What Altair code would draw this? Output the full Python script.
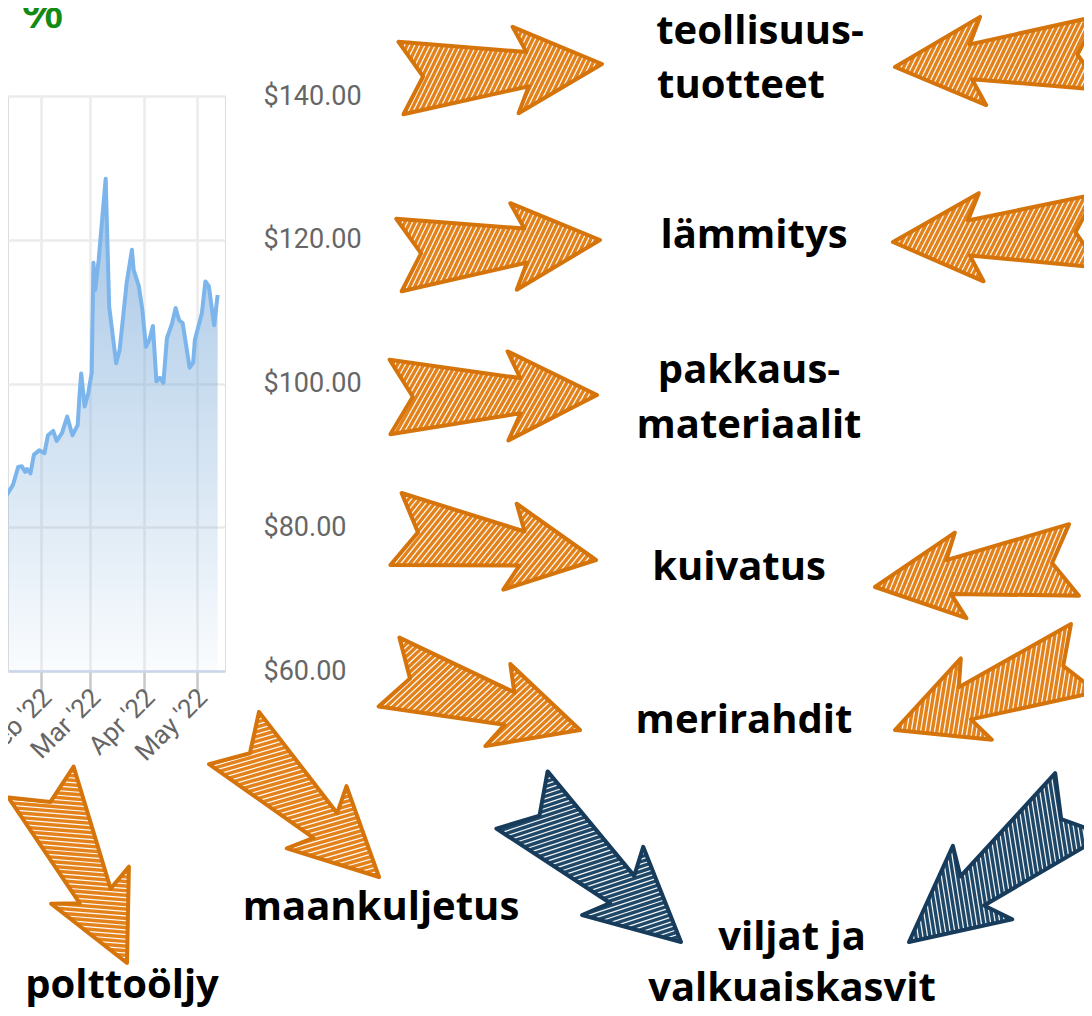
import math
import altair as alt
import pandas as pd

# ---------------- data ----------------
dates = ["2022-01-03", "2022-01-06", "2022-01-09", "2022-01-11", "2022-01-12", "2022-01-16",
         "2022-01-19", "2022-01-21", "2022-01-23", "2022-01-24", "2022-01-26", "2022-01-28",
         "2022-01-31", "2022-02-03", "2022-02-05", "2022-02-08", "2022-02-10", "2022-02-13",
         "2022-02-16", "2022-02-19", "2022-02-22", "2022-02-23", "2022-02-24", "2022-02-26",
         "2022-02-28", "2022-03-02", "2022-03-03", "2022-03-04", "2022-03-06", "2022-03-10",
         "2022-03-12", "2022-03-16", "2022-03-18", "2022-03-22", "2022-03-25", "2022-03-26",
         "2022-03-29", "2022-03-31", "2022-04-02", "2022-04-04", "2022-04-06", "2022-04-08",
         "2022-04-10", "2022-04-12", "2022-04-14", "2022-04-17", "2022-04-19", "2022-04-21",
         "2022-04-23", "2022-04-27", "2022-04-29", "2022-04-30", "2022-05-04", "2022-05-06",
         "2022-05-08", "2022-05-11", "2022-05-13"]
prices = [79.5, 80.8, 82.2, 81.8, 84.3, 85.9,
          88.4, 88.5, 87.7, 88.1, 87.5, 90.1,
          90.7, 90.3, 92.8, 93.4, 92.0, 93.1,
          95.4, 92.8, 94.2, 98.2, 101.4, 96.8,
          98.6, 101.5, 116.8, 113.0, 117.2, 128.5,
          110.7, 102.8, 104.7, 114.0, 118.6, 115.8,
          113.5, 110.2, 105.1, 106.1, 108.0, 100.3,
          100.8, 100.1, 106.3, 108.4, 110.5, 108.8,
          108.4, 102.2, 102.9, 106.1, 109.8, 114.2,
          113.5, 108.1, 112.3]
assert len(dates) == len(prices)

tick_months = [2, 3, 4, 5]
y_ticks = [60, 80, 100, 120, 140]

labels = ["teollisuus-", "tuotteet", "lämmitys", "pakkaus-", "materiaalit", "kuivatus",
          "merirahdit", "maankuljetus", "polttoöljy", "viljat ja", "valkuaiskasvit"]
corner_text = "%"

# ---------------- layout (page pixels) ----------------
OX, OY = 8, 96          # page position of the plot origin
label_pos = [(760, 44), (741, 98), (754, 248), (749, 383), (749, 438), (739, 580),
             (744, 733), (381, 920), (122, 998), (792, 950), (792, 1001)]

COLORS = {"orange": ("#E3821A", "#D6740C"), "navy": ("#1F4768", "#173B5B")}
# tail centre x, y, tip x, y, colour
arrows = [
    (401, 78, 602, 64, "orange"),
    (399, 255, 600, 240, "orange"),
    (390, 397, 597, 395, "orange"),
    (396, 529, 596, 560, "orange"),
    (389, 672, 580, 730, "orange"),
    (1100, 53, 895, 67, "orange"),
    (1098, 231, 893, 242, "orange"),
    (1074, 560, 875, 587, "orange"),
    (1084, 658, 895, 730, "orange"),
    (522, 800, 681, 942, "navy"),
    (1080, 804, 909, 942, "navy"),
    (41, 782, 127, 963, "orange"),
    (234, 738, 379, 877, "orange"),
]
ARROW_SHAPE = [(0.0, -0.18), (0.63, -0.085), (0.57, -0.215), (1.0, 0.0),
               (0.57, 0.215), (0.63, 0.085), (0.0, 0.18), (0.11, 0.0)]
HATCH_SP = 4.6


def arrow_paths(tx, ty, px, py):
    dx, dy = px - tx, py - ty
    L = math.hypot(dx, dy)
    d = (dx / L, dy / L)
    n = (-d[1], d[0])
    poly = [(u * L, v * L) for u, v in ARROW_SHAPE]

    def scr(u, v):
        return (tx + u * d[0] + v * n[0] - OX, ty + u * d[1] + v * n[1] - OY)

    pts = [scr(u, v) for u, v in poly]
    outline = "M" + " L".join(f"{x:.1f},{y:.1f}" for x, y in pts) + " Z"
    h = (0.5, -0.866)
    m = (0.866, 0.5)
    projs = [p[0] * m[0] + p[1] * m[1] for p in poly]
    s = min(projs) + HATCH_SP / 2
    segs = []
    while s < max(projs):
        ts = []
        for i in range(len(poly)):
            a = poly[i]
            b = poly[(i + 1) % len(poly)]
            e = (b[0] - a[0], b[1] - a[1])
            den = h[0] * e[1] - h[1] * e[0]
            if abs(den) < 1e-9:
                continue
            r = (a[0] - s * m[0], a[1] - s * m[1])
            t = (r[0] * e[1] - r[1] * e[0]) / den
            w = (r[0] * h[1] - r[1] * h[0]) / den
            if 0 <= w < 1:
                ts.append(t)
        ts.sort()
        for k in range(0, len(ts) - 1, 2):
            p0 = scr(s * m[0] + ts[k] * h[0], s * m[1] + ts[k] * h[1])
            p1 = scr(s * m[0] + ts[k + 1] * h[0], s * m[1] + ts[k + 1] * h[1])
            segs.append(f"M{p0[0]:.1f},{p0[1]:.1f} L{p1[0]:.1f},{p1[1]:.1f}")
        s += HATCH_SP
    return outline, " ".join(segs)


outl, hatch, fills, edges = [], [], [], []
for tx, ty, px, py, c in arrows:
    o, hh = arrow_paths(tx, ty, px, py)
    outl.append(o)
    hatch.append(hh)
    fills.append(COLORS[c][0])
    edges.append(COLORS[c][1])
arrow_df = pd.DataFrame({"outline": outl, "hatch": hatch, "fill": fills, "edge": edges})

# ---------------- price chart ----------------
df = pd.DataFrame({"date": dates, "price": prices})

x_enc = alt.X(
    "date:T",
    scale=alt.Scale(type="utc", domain=[
        alt.DateTime(year=2022, month=1, date=13, hours=4, utc=True),
        alt.DateTime(year=2022, month=5, date=17, hours=5, utc=True)]),
    axis=alt.Axis(
        values=[alt.DateTime(year=2022, month=mo, date=1, utc=True) for mo in tick_months],
        format="%b '%y", labelAngle=315, labelAlign="right", labelBaseline="middle",
        labelOverlap=False, labelFlush=False, labelOffset=6,
        labelFont="Roboto", labelFontSize=26, labelColor="#666666", labelPadding=0,
        tickSize=22, tickColor="#c8c8c8", tickWidth=2.5,
        domainColor="#ccd6eb", domainWidth=2.5,
        grid=True, gridColor="#ebebeb", gridWidth=2.5, title=None),
)
y_enc = alt.Y(
    "price:Q",
    scale=alt.Scale(domain=[60, 140], nice=False, zero=False),
    axis=alt.Axis(
        orient="right", values=y_ticks, format="$.2f",
        labelFont="Roboto", labelFontSize=27, labelColor="#666666",
        labelAlign="left", labelBaseline="middle", labelPadding=38,
        labelOverlap=False, labelFlush=False,
        ticks=False, domain=False,
        grid=True, gridColor="#ebebeb", gridWidth=2.5, title=None),
)

area = alt.Chart(df).mark_area(
    clip=True,
    color=alt.Gradient(
        gradient="linear",
        stops=[alt.GradientStop(color="rgba(115,165,215,0.66)", offset=0),
               alt.GradientStop(color="rgba(120,170,215,0.04)", offset=1)],
        x1=1, x2=1, y1=0, y2=1),
).encode(x=x_enc, y=y_enc, y2=alt.datum(60))

line = alt.Chart(df).mark_line(
    clip=True, color="#7cb5ec", strokeWidth=4, strokeJoin="round"
).encode(x=x_enc, y=y_enc)

# ---------------- arrows ----------------
arrow_fill = alt.Chart(arrow_df).mark_point(
    filled=True, size=4, opacity=1, strokeWidth=0
).encode(x=alt.value(0), y=alt.value(0),
         shape=alt.Shape("outline:N", scale=None),
         color=alt.Color("fill:N", scale=None))

arrow_hatch = alt.Chart(arrow_df).mark_point(
    filled=False, size=4, opacity=0.95, strokeWidth=1.25, color="#ffffff"
).encode(x=alt.value(0), y=alt.value(0),
         shape=alt.Shape("hatch:N", scale=None))

arrow_edge = alt.Chart(arrow_df).mark_point(
    filled=False, size=4, opacity=1, strokeWidth=4, strokeJoin="round"
).encode(x=alt.value(0), y=alt.value(0),
         shape=alt.Shape("outline:N", scale=None),
         color=alt.Color("edge:N", scale=None))

layers = [area, line, arrow_fill, arrow_hatch, arrow_edge]

for lab, (cx, by) in zip(labels, label_pos):
    layers.append(
        alt.Chart(pd.DataFrame({"t": [lab]})).mark_text(
            font="Open Sans", fontWeight="bold", fontSize=40, color="#000000",
            align="center", baseline="alphabetic"
        ).encode(x=alt.value(cx - OX), y=alt.value(by - OY), text="t:N")
    )

layers.append(
    alt.Chart(pd.DataFrame({"t": [corner_text]})).mark_text(
        font="Liberation Sans", fontWeight="bold", fontSize=46, color="#138a13",
        align="left", baseline="alphabetic"
    ).encode(x=alt.value(22 - OX), y=alt.value(28 - OY), text="t:N")
)

chart = alt.layer(*layers).properties(
    width=217, height=575,
    autosize=alt.AutoSizeParams(type="none"),
    padding={"left": 0, "top": 88, "right": 859, "bottom": 337},
).configure_view(strokeWidth=0).configure(background="white")

chart.save("out.html", embed_options={"renderer": "svg", "actions": False})
